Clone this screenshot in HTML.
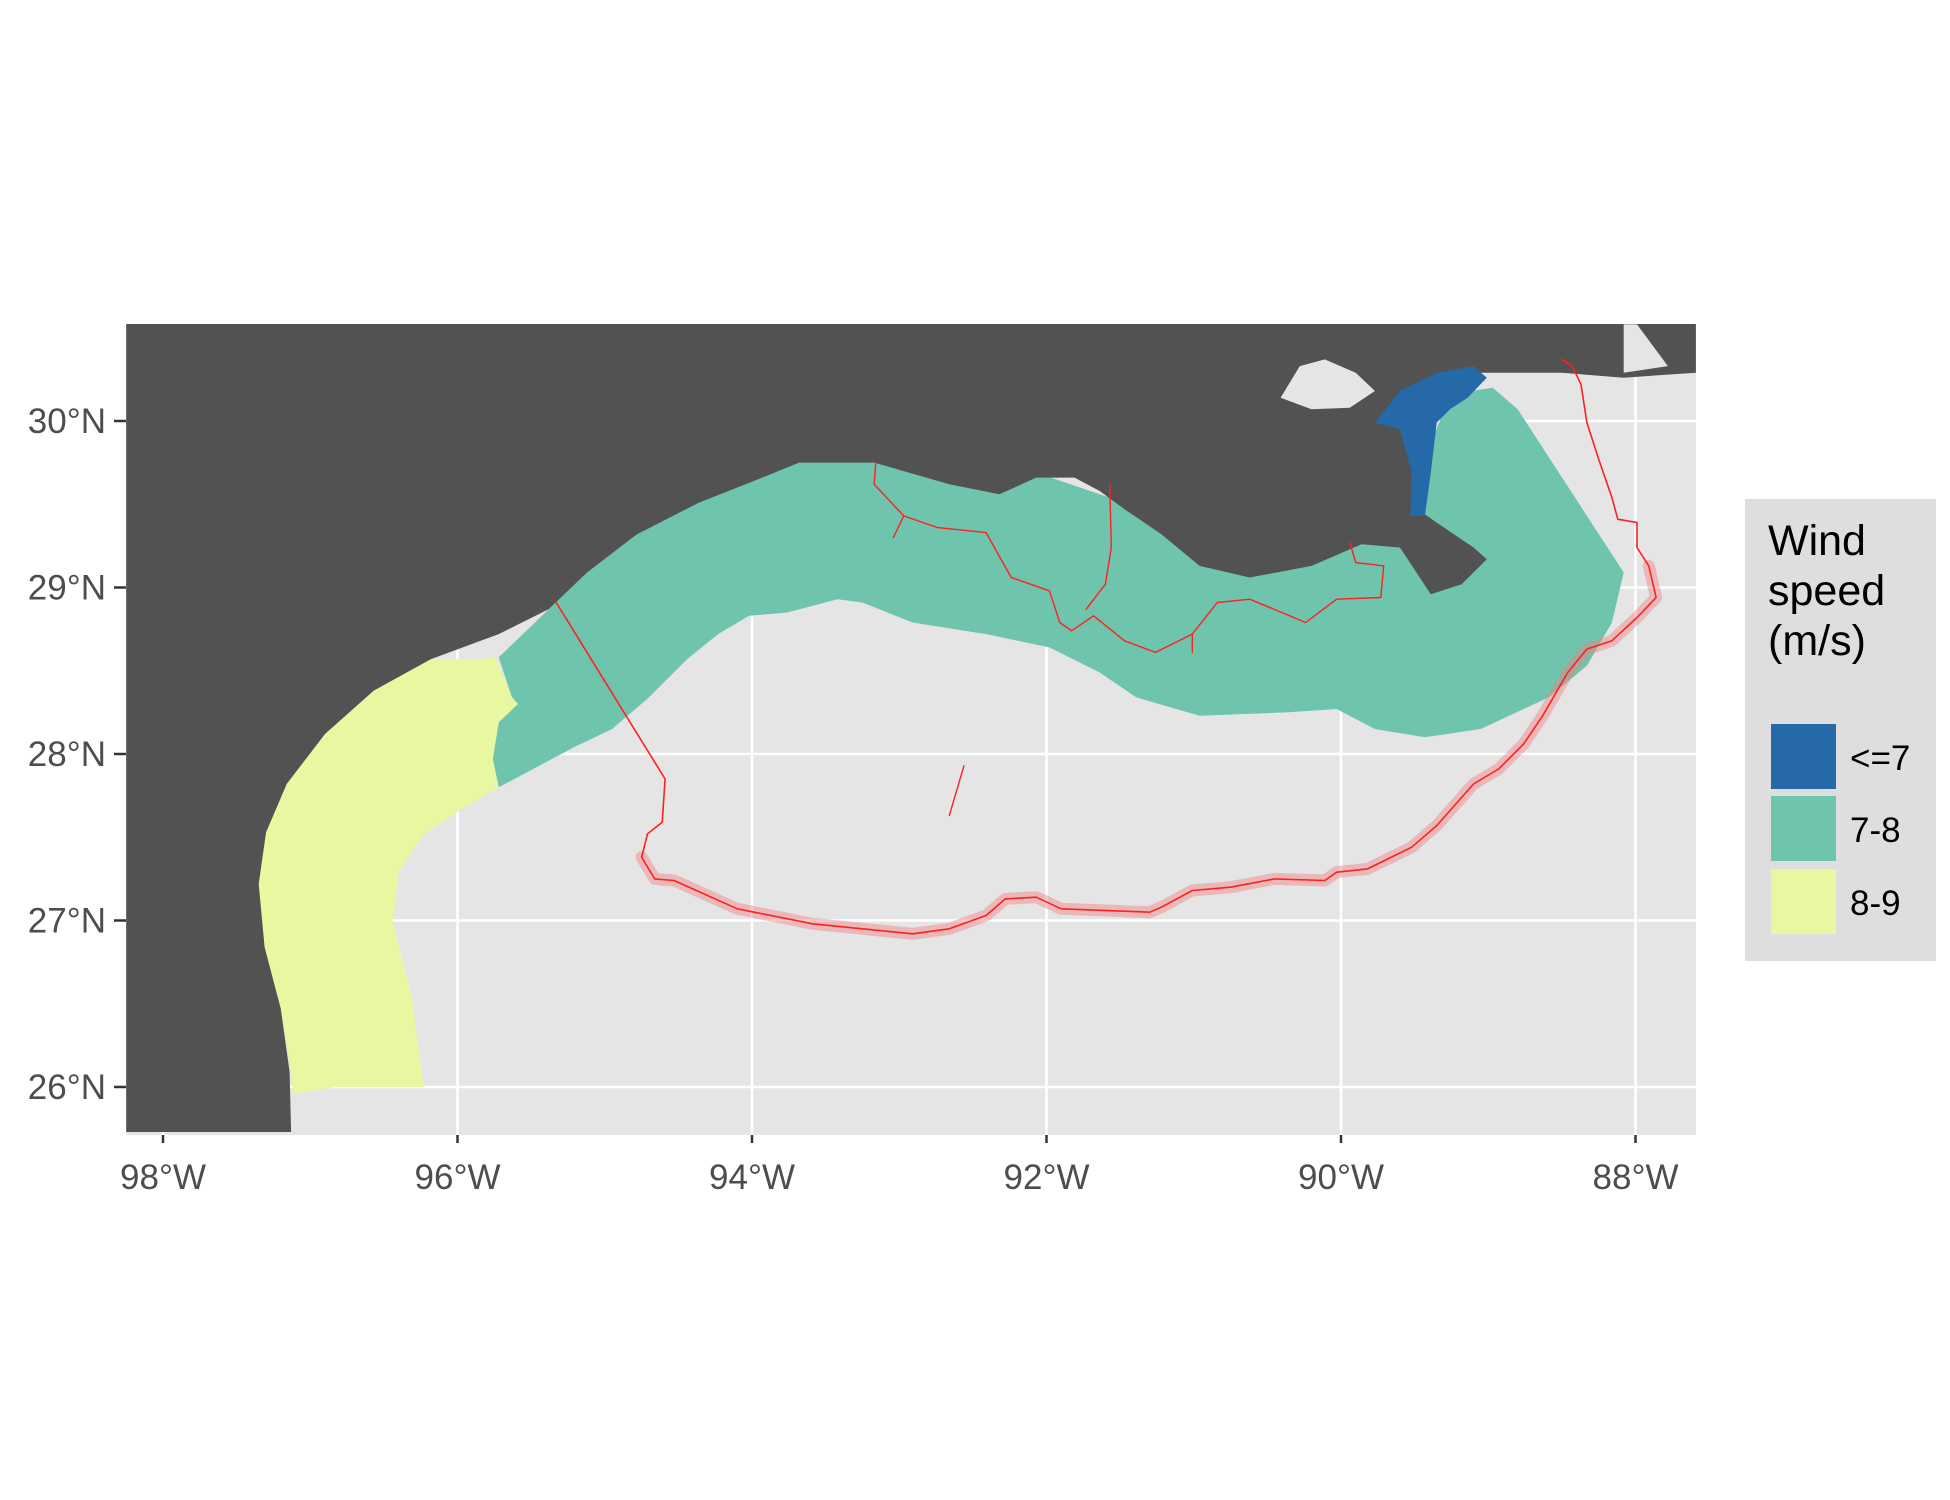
<!DOCTYPE html>
<html><head><meta charset="utf-8"><style>
html,body{margin:0;padding:0;background:#fff;}
svg{display:block;font-family:"Liberation Sans",sans-serif;}
</style></head><body>
<svg id="chart" width="1950" height="1500" viewBox="0 0 1950 1500" xmlns="http://www.w3.org/2000/svg">
<defs><clipPath id="pc"><rect x="126" y="324" width="1570" height="811"/></clipPath></defs>
<rect x="126" y="324" width="1570" height="811" fill="#e5e5e5"/>
<g id="grid"></g>
<g id="layers" clip-path="url(#pc)"></g>
<g id="axes"></g>
<g>
<rect x="1745" y="499" width="191" height="462" fill="#dedede"/>
<text x="1768" y="555" font-size="43" fill="#000">Wind</text>
<text x="1768" y="605" font-size="43" fill="#000">speed</text>
<text x="1768" y="655" font-size="43" fill="#000">(m/s)</text>
<rect x="1771" y="724" width="65" height="65" fill="#2569a9"/>
<text x="1850" y="770" font-size="35" fill="#000">&lt;=7</text>
<rect x="1771" y="796" width="65" height="65" fill="#6ec4ad"/>
<text x="1850" y="842" font-size="35" fill="#000">7-8</text>
<rect x="1771" y="869" width="65" height="65" fill="#e7f8a1"/>
<text x="1850" y="915" font-size="35" fill="#000">8-9</text>
</g>
</svg>
<script>
const lonTicks=[-98,-96,-94,-92,-90,-88];
const lonLabels=["98°W","96°W","94°W","92°W","90°W","88°W"];
const latTicks=[26,27,28,29,30];
const latLabels=["26°N","27°N","28°N","29°N","30°N"];
const landPoly=[[-98.25,30.6],[-87.59,30.6],[-87.59,30.29],[-88.08,30.26],[-88.5,30.29],[-88.93,30.29],[-89.26,30.29],[-89.35,29.99],[-89.43,29.69],[-89.48,29.47],[-89.35,29.39],[-89.1,29.24],[-89.01,29.17],[-89.18,29.02],[-89.39,28.96],[-89.6,29.24],[-89.86,29.26],[-90.2,29.13],[-90.62,29.06],[-90.96,29.13],[-91.22,29.32],[-91.47,29.47],[-91.64,29.58],[-91.81,29.66],[-92.07,29.66],[-92.32,29.56],[-92.66,29.62],[-93.17,29.75],[-93.68,29.75],[-93.93,29.66],[-94.36,29.51],[-94.78,29.32],[-95.12,29.09],[-95.38,28.87],[-95.72,28.72],[-96.18,28.57],[-96.57,28.38],[-96.9,28.12],[-97.16,27.82],[-97.3,27.53],[-97.35,27.22],[-97.31,26.84],[-97.2,26.47],[-97.14,26.09],[-97.13,25.73],[-98.25,25.73]];
const lakePoly=[[-90.41,30.14],[-90.28,30.33],[-90.11,30.37],[-89.9,30.29],[-89.77,30.18],[-89.94,30.08],[-90.2,30.07]];
const mobileBay=[[-88.08,30.58],[-87.99,30.58],[-87.78,30.33],[-88.08,30.29]];
const bluePoly=[[-89.77,29.99],[-89.6,30.18],[-89.35,30.29],[-89.1,30.33],[-89.01,30.26],[-89.14,30.14],[-89.26,30.07],[-89.35,29.99],[-89.39,29.69],[-89.43,29.43],[-89.53,29.43],[-89.52,29.69],[-89.6,29.95]];
const tealPoly=[[-95.72,28.58],[-95.38,28.87],[-95.12,29.09],[-94.78,29.32],[-94.36,29.54],[-93.93,29.69],[-93.68,29.78],[-93.17,29.78],[-92.66,29.65],[-92.07,29.69],[-91.47,29.51],[-90.96,29.17],[-90.2,29.21],[-89.77,29.36],[-89.43,29.77],[-89.26,30.16],[-88.97,30.2],[-88.8,30.07],[-88.08,29.09],[-88.16,28.79],[-88.33,28.53],[-88.59,28.34],[-89.05,28.15],[-89.43,28.1],[-89.77,28.15],[-90.03,28.27],[-90.37,28.25],[-90.96,28.23],[-91.39,28.34],[-91.64,28.49],[-91.98,28.64],[-92.41,28.72],[-92.91,28.79],[-93.25,28.91],[-93.42,28.93],[-93.76,28.85],[-94.02,28.83],[-94.23,28.72],[-94.44,28.57],[-94.7,28.34],[-94.95,28.15],[-95.21,28.04],[-95.72,27.8],[-95.76,27.97],[-95.72,28.19],[-95.59,28.3],[-95.63,28.34]];
const tealBay=[[-94.99,29.58],[-94.86,29.66],[-94.74,29.75],[-94.71,29.62],[-94.78,29.51],[-94.66,29.54],[-94.87,29.41],[-94.95,29.47]];
const yellowPoly=[[-95.84,28.57],[-95.74,28.58],[-95.63,28.34],[-95.59,28.3],[-95.72,28.19],[-95.76,27.97],[-95.72,27.8],[-95.97,27.67],[-96.23,27.52],[-96.4,27.29],[-96.44,26.99],[-96.31,26.54],[-96.23,26.0],[-96.82,26.0],[-97.12,25.96],[-97.13,26.09],[-97.2,26.47],[-97.33,26.84],[-97.37,27.22],[-97.31,27.53],[-97.18,27.82],[-96.92,28.12],[-96.59,28.38],[-96.19,28.57]];
const routeMain=[[-95.33,28.91],[-94.59,27.85],[-94.61,27.59],[-94.71,27.52],[-94.75,27.38],[-94.66,27.25],[-94.53,27.24],[-94.1,27.07],[-93.59,26.98],[-92.91,26.92],[-92.66,26.95],[-92.41,27.03],[-92.28,27.13],[-92.07,27.14],[-91.9,27.07],[-91.3,27.05],[-91.22,27.08],[-91.01,27.18],[-90.75,27.2],[-90.45,27.25],[-90.11,27.24],[-90.03,27.29],[-89.82,27.31],[-89.52,27.44],[-89.35,27.57],[-89.1,27.82],[-88.93,27.91],[-88.76,28.06],[-88.63,28.23],[-88.46,28.49],[-88.33,28.63],[-88.16,28.68],[-87.99,28.82],[-87.86,28.94],[-87.91,29.13],[-87.99,29.24],[-87.99,29.39],[-88.12,29.41],[-88.16,29.54],[-88.25,29.77],[-88.33,29.99],[-88.37,30.22],[-88.43,30.33],[-88.5,30.37]];
const haloStart=4, haloEnd=34;
const branch1=[[-93.16,29.75],[-93.17,29.62],[-92.97,29.43],[-93.04,29.3]];
const branch2=[[-92.97,29.43],[-92.74,29.36],[-92.41,29.33],[-92.24,29.06],[-91.98,28.98],[-91.91,28.79],[-91.83,28.74],[-91.68,28.83],[-91.47,28.68],[-91.26,28.61],[-91.01,28.72],[-90.84,28.91],[-90.62,28.93],[-90.24,28.79],[-90.03,28.93],[-89.73,28.94],[-89.71,29.13],[-89.9,29.15],[-89.94,29.27]];
const branch3=[[-91.57,29.62],[-91.56,29.24],[-91.6,29.02],[-91.73,28.87]];
const branch4=[[-91.01,28.72],[-91.01,28.61]];
const branch5=[[-92.56,27.93],[-92.66,27.63]];

const NS="http://www.w3.org/2000/svg";
const px=lon=>163+(lon+98)*147.25;
const py=lat=>1087-(lat-26)*166.5;
const pts=a=>a.map(p=>px(p[0]).toFixed(1)+","+py(p[1]).toFixed(1)).join(" ");
const layers=document.getElementById("layers");
function poly(arr,fill,name){const e=document.createElementNS(NS,"polygon");e.setAttribute("points",pts(arr));e.setAttribute("fill",fill);


layers.appendChild(e);}
function line(arr,stroke,w,op,name){const e=document.createElementNS(NS,"polyline");e.setAttribute("points",pts(arr));e.setAttribute("fill","none");e.setAttribute("stroke",stroke);e.setAttribute("stroke-width",w);e.setAttribute("stroke-opacity",op);e.setAttribute("stroke-linejoin","round");e.setAttribute("stroke-linecap","round");


layers.appendChild(e);}
const grid=document.getElementById("grid");
lonTicks.forEach(v=>{const l=document.createElementNS(NS,"line");l.setAttribute("x1",px(v));l.setAttribute("x2",px(v));l.setAttribute("y1",324);l.setAttribute("y2",1135);l.setAttribute("stroke","#fff");l.setAttribute("stroke-width",2.5);


grid.appendChild(l);});
latTicks.forEach(v=>{const l=document.createElementNS(NS,"line");l.setAttribute("y1",py(v));l.setAttribute("y2",py(v));l.setAttribute("x1",126);l.setAttribute("x2",1696);l.setAttribute("stroke","#fff");l.setAttribute("stroke-width",2.5);


grid.appendChild(l);});
poly(tealPoly,"#6ec4ad","zone-7-8");
poly(tealBay,"#6ec4ad","zone-7-8-bay");
poly(yellowPoly,"#e7f8a1","zone-8-9");
poly(landPoly,"#525252","land");
poly(lakePoly,"#e5e5e5","lake");
poly(mobileBay,"#e5e5e5","mobile-bay");
poly(bluePoly,"#2569a9","zone-le7");
line(routeMain.slice(haloStart,haloEnd+1),"#f08080",12,0.45,"route-halo");
line(routeMain,"#ff2020",1.6,1,"route-line");
[branch1,branch2,branch3,branch4,branch5].forEach((b,i)=>line(b,"#ff2020",1.4,1,"route-branch-"+(i+1)));
const axes=document.getElementById("axes");
lonTicks.forEach((v,i)=>{const t=document.createElementNS(NS,"line");t.setAttribute("x1",px(v));t.setAttribute("x2",px(v));t.setAttribute("y1",1135);t.setAttribute("y2",1143);t.setAttribute("stroke","#333");t.setAttribute("stroke-width",2.5);


axes.appendChild(t);
const s=document.createElementNS(NS,"text");s.setAttribute("x",px(v));s.setAttribute("y",1189);s.setAttribute("text-anchor","middle");s.setAttribute("font-size","35");s.setAttribute("fill","#4d4d4d");s.textContent=lonLabels[i];


axes.appendChild(s);});
latTicks.forEach((v,i)=>{const t=document.createElementNS(NS,"line");t.setAttribute("y1",py(v));t.setAttribute("y2",py(v));t.setAttribute("x1",114);t.setAttribute("x2",126);t.setAttribute("stroke","#333");t.setAttribute("stroke-width",2.5);


axes.appendChild(t);
const s=document.createElementNS(NS,"text");s.setAttribute("x",106);s.setAttribute("y",py(v)+12);s.setAttribute("text-anchor","end");s.setAttribute("font-size","35");s.setAttribute("fill","#4d4d4d");s.textContent=latLabels[i];


axes.appendChild(s);});
</script>
</body></html>
